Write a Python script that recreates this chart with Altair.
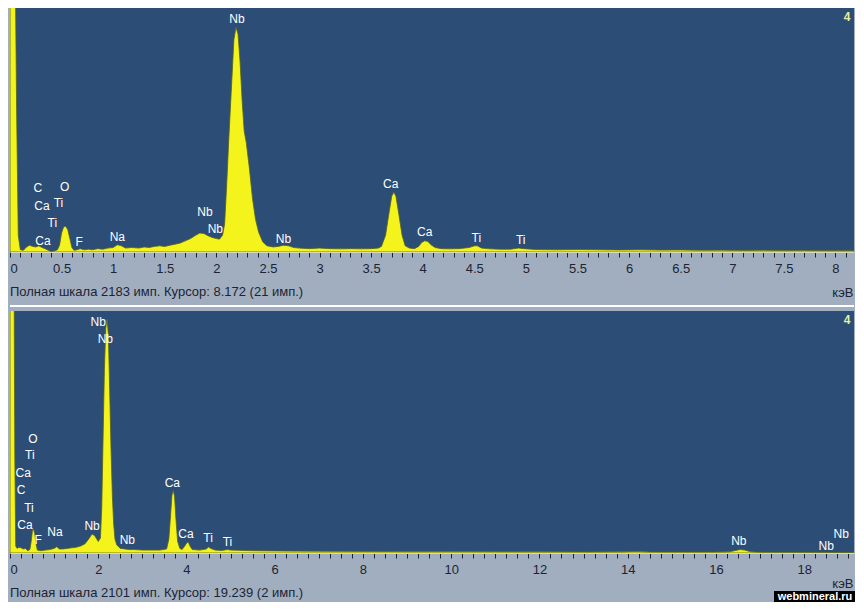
import altair as alt
import pandas as pd

# ---------------- data: upper spectrum (0 - 8.18 keV, full scale 2183) ----------------
top_kev = [0.00, 0.02, 0.05, 0.065, 0.08, 0.10, 0.13, 0.16, 0.19, 0.22, 0.25, 0.28, 0.31, 0.34,
           0.37, 0.40, 0.43, 0.46, 0.48, 0.50, 0.52, 0.54, 0.56, 0.58, 0.60, 0.62, 0.65, 0.68,
           0.72, 0.76, 0.80, 0.85, 0.90, 0.95, 1.00, 1.04, 1.08, 1.12, 1.18, 1.25, 1.30, 1.35,
           1.40, 1.45, 1.50, 1.55, 1.60, 1.65, 1.70, 1.75, 1.80, 1.84, 1.88, 1.92, 1.96, 2.00,
           2.03, 2.06, 2.08, 2.10, 2.12, 2.14, 2.17, 2.19, 2.21, 2.23, 2.25, 2.27, 2.29, 2.32,
           2.35, 2.38, 2.41, 2.45, 2.49, 2.55, 2.60, 2.65, 2.70, 2.75, 2.80, 2.90, 3.00, 3.10,
           3.20, 3.30, 3.40, 3.50, 3.57, 3.60, 3.64, 3.67, 3.70, 3.72, 3.74, 3.77, 3.80, 3.83,
           3.87, 3.92, 3.96, 3.99, 4.02, 4.05, 4.08, 4.12, 4.18, 4.25, 4.35, 4.45, 4.50, 4.53,
           4.57, 4.65, 4.75, 4.85, 4.93, 4.98, 5.10, 5.30, 5.50, 5.70, 5.90, 6.10, 6.30, 6.50,
           6.70, 6.90, 7.10, 7.30, 7.50, 7.70, 7.90, 8.18]
top_counts = [2600, 2600, 2600, 1200, 150, 20, 15, 45, 60, 50, 45, 55, 40, 30,
              15, 5, 10, 20, 60, 170, 225, 230, 200, 120, 40, 15, 20, 30,
              20, 25, 20, 30, 25, 35, 40, 65, 55, 35, 40, 35, 45, 40,
              50, 55, 50, 60, 70, 80, 100, 120, 150, 170, 165, 145, 130, 120,
              115, 150, 250, 600, 1000, 1360, 1900, 2010, 1950, 1700, 1350, 1080, 980, 750,
              480, 290, 177, 90, 55, 45, 50, 60, 55, 40, 35, 30, 35, 30,
              28, 30, 28, 30, 35, 50, 150, 330, 500, 535, 500, 330, 150, 55,
              35, 30, 50, 85, 100, 95, 65, 40, 30, 28, 30, 40, 55, 55,
              35, 28, 25, 25, 35, 30, 22, 20, 22, 20, 18, 20, 17, 18,
              15, 16, 14, 15, 13, 14, 12, 12]

top_lbl_text = ["Nb", "C", "O", "Ca", "Ti", "Ti", "Ca", "F", "Na", "Nb", "Nb", "Nb", "Ca", "Ca", "Ti", "Ti"]
top_lbl_kev = [2.20, 0.27, 0.53, 0.31, 0.47, 0.41, 0.32, 0.67, 1.04, 1.89, 1.99, 2.65, 3.69, 4.02, 4.52, 4.95]
top_lbl_cnt = [2084, 577, 585, 408, 435, 257, 98, 89, 133, 355, 204, 115, 612, 177, 124, 106]

# ---------------- data: lower spectrum (0 - 19.13 keV, full scale 2101) ----------------
bot_kev = [0.00, 0.05, 0.09, 0.11, 0.13, 0.16, 0.20, 0.25, 0.30, 0.35, 0.40, 0.45, 0.48, 0.51,
           0.53, 0.56, 0.59, 0.62, 0.70, 0.80, 0.90, 1.00, 1.06, 1.12, 1.20, 1.30, 1.40, 1.50,
           1.60, 1.70, 1.78, 1.86, 1.92, 2.00, 2.05, 2.08, 2.11, 2.14, 2.17, 2.20, 2.23, 2.26,
           2.29, 2.32, 2.35, 2.38, 2.42, 2.50, 2.60, 2.70, 2.80, 3.00, 3.20, 3.40, 3.55, 3.60,
           3.64, 3.67, 3.70, 3.73, 3.76, 3.80, 3.85, 3.90, 3.96, 4.01, 4.04, 4.08, 4.13, 4.30,
           4.45, 4.50, 4.55, 4.65, 4.80, 4.93, 5.00, 5.50, 6.00, 7.00, 8.00, 9.00, 10.00, 11.00,
           12.00, 13.00, 13.90, 14.10, 14.30, 14.50, 15.00, 16.00, 16.30, 16.45, 16.55, 16.65,
           16.80, 17.00, 18.00, 19.13]
bot_counts = [2600, 2600, 2600, 800, 60, 40, 50, 45, 35, 40, 20, 30, 100, 200,
              210, 170, 80, 25, 20, 25, 30, 40, 55, 35, 35, 40, 45, 50,
              60, 80, 120, 165, 150, 100, 130, 400, 1000, 1600, 1950, 2030, 1900, 1400,
              900, 500, 250, 120, 70, 40, 35, 30, 30, 25, 25, 25, 35, 120,
              330, 500, 545, 490, 300, 100, 40, 30, 60, 90, 95, 60, 30, 25,
              35, 52, 40, 25, 22, 30, 25, 20, 18, 15, 14, 12, 12, 11,
              10, 9, 10, 14, 12, 9, 8, 8, 10, 22, 30, 25,
              10, 7, 6, 5]

bot_lbl_text = ["Nb", "Nb", "O", "Ti", "Ca", "C", "Ti", "Ca", "F", "Na", "Nb", "Nb", "Ca", "Ca", "Ti", "Ti",
                "Nb", "Nb", "Nb"]
bot_lbl_kev = [2.00, 2.16, 0.52, 0.45, 0.30, 0.25, 0.43, 0.34, 0.64, 1.02, 1.86, 2.66, 3.68, 3.99, 4.49, 4.93,
               16.52, 18.50, 18.84]
bot_lbl_cnt = [2006, 1859, 994, 847, 692, 545, 389, 242, 112, 182, 233, 112, 605, 164, 130, 95,
               104, 61, 164]

top_caption = "Полная шкала 2183 имп. Курсор: 8.172  (21 имп.)"
bot_caption = "Полная шкала 2101 имп. Курсор: 19.239  (2 имп.)"
unit_text = "кэВ"
panel_no = "4"
watermark = "webmineral.ru"

# ---------------- styling ----------------
FONT = "Liberation Sans Narrow, Liberation Sans, Arial, sans-serif"
LBL_FONT = "Liberation Sans, Arial, sans-serif"
PLOT_BG = "#2c4d76"
PANEL_BG = "#a1aebf"
YELLOW = "#f4f41c"
W = 844


def panel(kev, counts, ltext, lkev, lcnt, xmax, ymax, h, tick_step, label_every, caption,
          unit_y, separator=False, mark=False):
    df = pd.DataFrame({"kev": kev, "counts": counts})
    ldf = pd.DataFrame({"kev": lkev, "counts": lcnt, "label": ltext})
    one = pd.DataFrame({"a": [0]})
    n = int(round(xmax / tick_step))
    ticks = [round(i * tick_step, 3) for i in range(n + 1)]
    axis = alt.Axis(
        values=ticks,
        labelExpr=(f"abs(datum.value/{label_every} - round(datum.value/{label_every})) < 0.001 "
                   f"? format(datum.value, '~g') : ''"),
        title=unit_text, titleAnchor="end", titleAlign="right", titleBaseline="middle",
        titleX=W - 1, titleY=unit_y, titleFont=FONT, titleFontSize=13,
        titleFontWeight="normal", titleColor="#1c2434",
        tickSize=5, tickColor="#1a2233", tickWidth=1,
        domainColor="#d8dcb4", domainWidth=1,
        labelColor="#1c2434", labelFont=FONT, labelFontSize=13, labelPadding=5,
        labelFlush=True, labelOverlap=False, labelBound=False, grid=False,
    )
    xs = alt.Scale(domain=[0, xmax], nice=False, zero=False)
    ys = alt.Scale(domain=[0, ymax], nice=False)
    x_enc = alt.X("kev:Q", scale=xs, axis=axis)
    y_enc = alt.Y("counts:Q", scale=ys, axis=None)
    area = alt.Chart(df).mark_area(
        fill=YELLOW, stroke="#55621e", strokeWidth=0.8, clip=True, interpolate="linear"
    ).encode(x=x_enc, y=y_enc)
    labels = alt.Chart(ldf).mark_text(
        color="white", font=LBL_FONT, fontSize=12, baseline="middle", align="center"
    ).encode(x=x_enc, y=y_enc, text="label:N")
    cap = alt.Chart(one).mark_text(
        align="left", baseline="middle", font=FONT, fontSize=13, color="#1c2434"
    ).encode(x=alt.value(0), y=alt.value(h + 40), text=alt.value(caption))
    num = alt.Chart(one).mark_text(
        align="center", baseline="middle", font=LBL_FONT, fontSize=12, fontWeight="bold",
        color="#e6f0a0"
    ).encode(x=alt.value(W - 7), y=alt.value(9), text=alt.value(panel_no))
    layers = [area, labels, cap, num]
    if separator:
        sep = alt.Chart(one).mark_rule(color="white", strokeWidth=2).encode(
            x=alt.value(0), x2=alt.value(W), y=alt.value(h + 54))
        layers.append(sep)
    if mark:
        box = alt.Chart(one).mark_rect(color="black").encode(
            x=alt.value(W - 80), x2=alt.value(W + 1), y=alt.value(h + 38), y2=alt.value(h + 49))
        wtxt = alt.Chart(one).mark_text(
            align="center", baseline="middle", font=LBL_FONT, fontSize=11, fontWeight="bold",
            color="white"
        ).encode(x=alt.value(W - 39), y=alt.value(h + 44), text=alt.value(watermark))
        layers += [box, wtxt]
    return alt.layer(*layers).properties(width=W, height=h)


top = panel(top_kev, top_counts, top_lbl_text, top_lbl_kev, top_lbl_cnt,
            8.18, 2183, 244, 0.1, 0.5, top_caption, 40, separator=True)
bot = panel(bot_kev, bot_counts, bot_lbl_text, bot_lbl_kev, bot_lbl_cnt,
            19.13, 2101, 242, 0.25, 2, bot_caption, 30, mark=True)

chart = alt.vconcat(top, bot, spacing=4).properties(
    padding={"left": 1, "top": 0, "right": 0, "bottom": 0},
    background=PANEL_BG,
).configure_view(stroke=None, fill=PLOT_BG)

chart.save("out.html", embed_options={"renderer": "svg", "actions": False})
